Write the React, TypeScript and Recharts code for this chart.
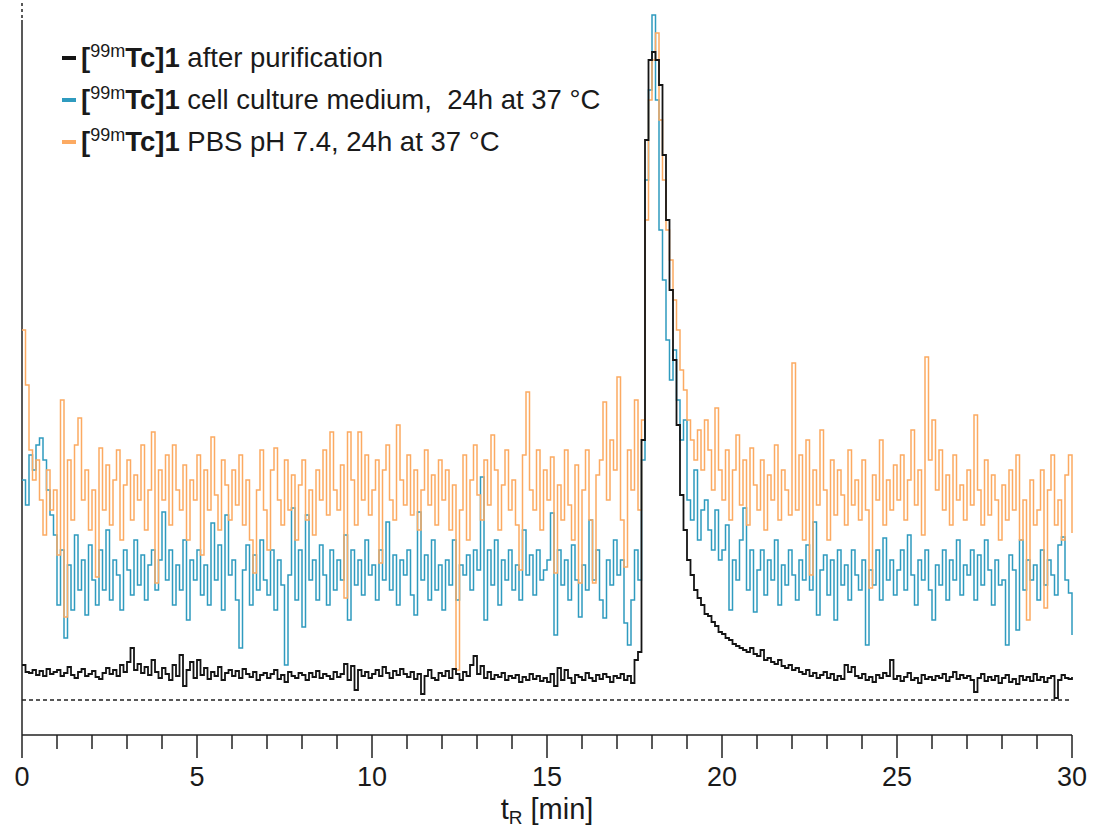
import { Line, LineChart, ReferenceLine, XAxis, YAxis } from "recharts";

// signal above the dashed baseline, one reading every 0.1 min from 0 to 30 min
const TIME_STEP = 0.1;

const afterPurification = [
  35, 28, 27, 30, 25, 29, 24, 31, 26, 28,
  30, 24, 27, 33, 25, 22, 28, 31, 24, 26,
  29, 23, 21, 27, 32, 26, 30, 24, 35, 28,
  38, 52, 30, 36, 27, 33, 25, 40, 28, 22,
  32, 26, 20, 35, 24, 45, 14, 30, 38, 22,
  40, 25, 32, 21, 28, 24, 33, 20, 27, 30,
  24, 29, 22, 31, 26, 23, 28, 20, 25, 27,
  22, 26, 30, 21, 25, 18, 28, 24, 22, 27,
  25, 20, 27, 23, 29, 22, 26, 24, 21, 28,
  23, 26, 36, 20, 34, 10, 30, 24, 28, 22,
  26, 30, 24, 33, 27, 22, 29, 25, 31, 26,
  23, 28, 21, 26, 6, 24, 30, 22, 20, 27,
  24, 29, 22, 31, 26, 20, 28, 24, 35, 44,
  26, 34, 22, 28, 21, 25, 23, 27, 20, 24,
  22, 25, 18, 23, 20, 26, 21, 24, 19, 22,
  18, 26, 14, 32, 20, 30, 22, 17, 25, 23,
  20, 27, 22, 19, 25, 21, 26, 23, 18, 24,
  22, 26, 20, 24, 17, 40, 48, 260, 560, 640,
  648, 640, 615, 545, 480, 410, 340, 275, 205, 170,
  140, 125, 110, 102, 95, 86, 84, 78, 74, 68,
  66, 62, 60, 56, 54, 52, 50, 48, 52, 46,
  44, 50, 40, 42, 38, 36, 40, 34, 32, 35,
  30, 32, 28, 26, 30, 24, 27, 22, 25, 28,
  22, 26, 20, 24, 21, 35, 28, 33, 24, 22,
  26, 20, 23, 18, 25, 22, 27, 24, 40, 21,
  24, 19, 23, 27, 20, 22, 17, 25, 21, 23,
  20, 24, 22, 26, 19, 23, 28, 21, 25, 22,
  24, 20, 8, 22, 26, 19, 23, 20, 24, 17,
  22, 25, 18, 21, 16, 24, 20, 23, 19, 26,
  20, 23, 18, 22, 24, 2, 20, 25, 22, 21,
  23,
];

const cellMedium = [
  220, 195, 245, 230, 255, 262, 240, 210, 185, 165,
  95, 150, 62, 135, 90, 165, 110, 140, 85, 155,
  120, 95, 150, 110, 170, 100, 140, 125, 90, 150,
  130, 105, 160, 115, 145, 100, 135, 150, 110, 140,
  188, 120, 150, 95, 135, 110, 160, 80, 140, 120,
  150, 105, 135, 95, 177, 120, 155, 90, 185, 125,
  140, 100, 52, 130, 155, 95, 145, 110, 160, 120,
  105, 150, 90, 140, 115, 35, 125, 192, 100, 150,
  73, 185, 120, 140, 100, 155, 125, 95, 150, 110,
  140, 120, 165, 80, 150, 115, 140, 105, 160, 125,
  135, 100, 150, 120, 178, 110, 145, 95, 140, 125,
  150, 105, 85, 188, 120, 145, 100, 160, 110, 135,
  90, 140, 115, 160, 100, 135, 125, 145, 110, 150,
  130, 223, 80, 150, 115, 160, 95, 140, 120, 150,
  110, 135, 100, 170, 125, 145, 105, 150, 120, 130,
  140, 187, 65, 150, 115, 140, 100, 155, 120, 83,
  135, 110, 180, 120, 150, 100, 82, 140, 115, 160,
  125, 140, 77, 55, 100, 150, 120, 240, 520, 610,
  685, 600, 470, 420, 360, 320, 350, 300, 260, 280,
  200, 180, 230, 160, 190, 200, 170, 150, 190, 140,
  150, 175, 90, 140, 120, 160, 192, 110, 150, 88,
  130, 150, 105, 140, 120, 160, 95, 135, 115, 150,
  125, 100, 140, 120, 155, 110, 178, 85, 130, 145,
  105, 140, 80, 150, 115, 135, 100, 150, 125, 110,
  140, 55, 130, 115, 150, 100, 162, 120, 140, 105,
  130, 150, 110, 165, 125, 95, 140, 120, 150, 110,
  80, 135, 115, 150, 100, 140, 120, 160, 105, 135,
  125, 150, 100, 145, 115, 160, 130, 95, 140, 115,
  120, 55, 145, 130, 70, 160, 110, 140, 120, 135,
  100, 150, 115, 140, 125, 105, 155, 163, 120, 107,
  65,
];

const pbs = [
  370, 315, 250, 220, 240, 200, 165, 230, 190, 210,
  145, 300, 83, 240, 180, 255, 282, 200, 230, 170,
  210, 123, 252, 190, 235, 175, 220, 250, 160, 215,
  240, 180, 225, 200, 255, 170, 210, 268, 117, 230,
  200, 245, 175, 255, 210, 190, 235, 160, 220, 200,
  245, 145, 230, 190, 263, 205, 170, 240, 215, 180,
  230, 195, 245, 175, 220, 160, 127, 210, 250, 190,
  150, 230, 252, 200, 175, 240, 190, 225, 160, 215,
  240, 180, 210, 165, 230, 200, 250, 185, 268, 210,
  190, 235, 102, 268, 220, 175, 268, 200, 245, 185,
  210, 240, 137, 230, 255, 200, 180, 275, 220, 195,
  245, 185, 230, 170, 210, 250, 195, 225, 175, 240,
  200, 230, 170, 215, 30, 190, 245, 160, 220, 255,
  205, 180, 240, 195, 265, 230, 170, 215, 250, 190,
  220, 175, 130, 245, 308, 210, 190, 250, 170, 230,
  200, 243, 127, 215, 180, 250, 195, 160, 235, 117,
  210, 250, 180, 117, 225, 240, 298, 200, 260, 230,
  323, 180, 133, 250, 210, 300, 190, 280, 480, 600,
  640, 667, 580, 520, 470, 440, 400, 370, 330, 310,
  280, 260, 240, 270, 230, 280, 250, 210, 292, 230,
  200, 250, 180, 230, 265, 195, 240, 175, 252, 215,
  190, 240, 170, 225, 200, 255, 180, 230, 210, 185,
  337, 190, 245, 160, 260, 125, 230, 195, 270, 210,
  160, 240, 185, 230, 205, 175, 250, 195, 220, 180,
  240, 190, 112, 225, 200, 260, 175, 220, 190, 235,
  200, 245, 180, 220, 270, 195, 230, 165, 343, 240,
  280, 210, 250, 190, 225, 175, 245, 200, 215, 180,
  230, 195, 285, 210, 175, 240, 185, 225, 200, 160,
  215, 180, 230, 190, 245, 160, 200, 80, 220, 175,
  190, 230, 92, 210, 245, 175, 200, 160, 225, 245,
  167,
];

const xTicks = [0, 1, 2, 3, 4, 5, 6, 7, 8, 9, 10, 11, 12, 13, 14, 15, 16, 17, 18, 19, 20, 21, 22, 23, 24, 25, 26, 27, 28, 29, 30];

const series = [
  { key: "medium", color: "#2f9bbf", width: 1.5, label: "cell culture medium,\u00a0 24h at 37 °C" },
  { key: "pbs", color: "#fcaa62", width: 1.5, label: "PBS pH 7.4, 24h at 37 °C" },
  { key: "purified", color: "#141414", width: 1.8, label: "after purification" },
];
const legendOrder = ["purified", "medium", "pbs"];

const rows = afterPurification.map((v, i) => ({
  t: Number((i * TIME_STEP).toFixed(1)),
  purified: v,
  medium: cellMedium[i],
  pbs: pbs[i],
}));

const FONT = '"Liberation Sans", Arial, sans-serif';

function XTick(props: any) {
  const { x, y, payload } = props;
  const major = payload.value % 5 === 0;
  return (
    <g>
      <line x1={x} x2={x} y1={y} y2={y + (major ? 23 : 14)} stroke="#222" strokeWidth={1.5} />
      {major && (
        <text x={x} y={y + 51} textAnchor="middle" fontSize={27} fontFamily={FONT} fill="#1a1a1a">
          {payload.value}
        </text>
      )}
    </g>
  );
}

function AxisTitle(props: any) {
  const vb = props.viewBox || { x: 22, y: 735, width: 1050 };
  const cx = vb.x + vb.width / 2;
  return (
    <text x={cx} y={vb.y + 84} textAnchor="middle" fontSize={29} fontFamily={FONT} fill="#1a1a1a">
      t<tspan fontSize={19} dy={5}>R</tspan>
      <tspan dy={-5}> [min]</tspan>
    </text>
  );
}

export default function App() {
  return (
    <div style={{ position: "absolute", left: 0, top: 0, width: 1094, height: 831, background: "#fff" }}>
      <LineChart width={1094} height={831} data={rows} margin={{ top: 0, right: 22, bottom: 0, left: 22 }}>
        <XAxis
          dataKey="t"
          type="number"
          domain={[0, 30]}
          ticks={xTicks}
          interval={0}
          height={96}
          tick={<XTick />}
          tickLine={false}
          tickSize={0}
          tickMargin={0}
          axisLine={{ stroke: "#222", strokeWidth: 1.5 }}
          label={<AxisTitle />}
        />
        <YAxis hide type="number" domain={[-35, 700]} allowDataOverflow />
        <ReferenceLine y={0} stroke="#222" strokeWidth={1.3} strokeDasharray="4 3" />
        <ReferenceLine segment={[{ x: 0, y: -35 }, { x: 0, y: 680 }]} stroke="#222" strokeWidth={1.5} />
        <ReferenceLine segment={[{ x: 0, y: 682 }, { x: 0, y: 700 }]} stroke="#222" strokeWidth={1.5} strokeDasharray="3 3" />
        {series.map((s) => (
          <Line
            key={s.key}
            dataKey={s.key}
            type="stepAfter"
            stroke={s.color}
            strokeWidth={s.width}
            dot={false}
            activeDot={false}
            isAnimationActive={false}
          />
        ))}
      </LineChart>
      <div style={{ position: "absolute", left: 62, top: 37, fontFamily: FONT, fontSize: 27.5, color: "#1a1a1a" }}>
        {legendOrder.map((k) => {
          const s = series.find((x) => x.key === k)!;
          return (
            <div key={k} style={{ display: "flex", alignItems: "center", height: 42, whiteSpace: "nowrap" }}>
              <span style={{ display: "inline-block", width: 14, height: 4, background: s.color, marginRight: 5 }} />
              <b>
                [<span style={{ fontSize: 18, fontWeight: "normal", position: "relative", top: -10 }}>99m</span>Tc]1
              </b>
              <span>&nbsp;{s.label}</span>
            </div>
          );
        })}
      </div>
    </div>
  );
}
